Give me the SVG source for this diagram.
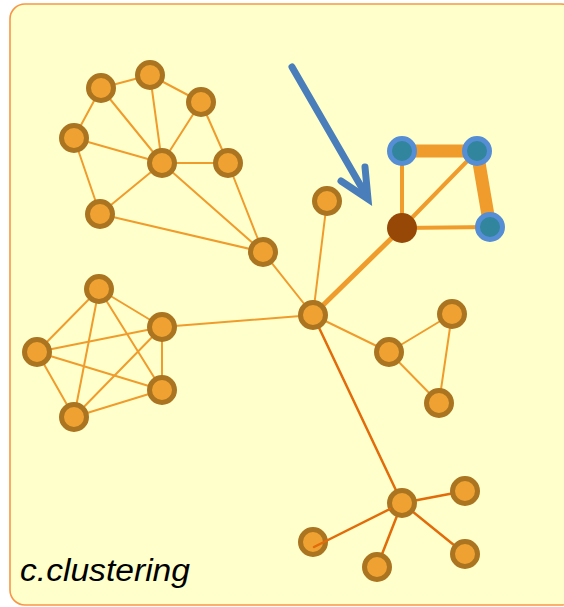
<svg xmlns="http://www.w3.org/2000/svg" width="564" height="607" viewBox="0 0 564 607">
  <style>
    .edge { stroke: #F09C2C; stroke-width: 2; fill: none; stroke-linecap: round; }
    .edge-dark { stroke: #E26B0A; stroke-width: 2.5; fill: none; stroke-linecap: round; }
    .node circle { fill: #EFA232; stroke: #AB7420; stroke-width: 5; }
    .hub circle { fill: #974806; stroke: none; }
    .seed circle { fill: #31859C; stroke: #558ED5; stroke-width: 5; }
    .label { font-family: "Liberation Sans", Arial, sans-serif; font-style: italic; font-size: 31px; fill: #000; }
  </style>

  <rect x="0" y="0" width="564" height="607" fill="#FFFFFF"/>
  <!-- panel -->
  <rect id="panel" x="10" y="4" width="566" height="601" rx="15" ry="15" fill="#FFFFCC" stroke="#F79646" stroke-width="1.6"/>

  <g id="connectors">
    <!-- upper-left cluster -->
    <line class="edge" x1="101" y1="88" x2="150" y2="75"/>
    <line class="edge" x1="101" y1="88" x2="74" y2="138"/>
    <line class="edge" x1="101" y1="88" x2="162" y2="163"/>
    <line class="edge" x1="150" y1="75" x2="162" y2="163"/>
    <line class="edge" x1="150" y1="75" x2="201" y2="102"/>
    <line class="edge" x1="201" y1="102" x2="162" y2="163"/>
    <line class="edge" x1="201" y1="102" x2="228" y2="163"/>
    <line class="edge" x1="74" y1="138" x2="162" y2="163"/>
    <line class="edge" x1="74" y1="138" x2="100" y2="214"/>
    <line class="edge" x1="162" y1="163" x2="228" y2="163"/>
    <line class="edge" x1="162" y1="163" x2="100" y2="214"/>
    <line class="edge" x1="162" y1="163" x2="263" y2="252"/>
    <line class="edge" x1="228" y1="163" x2="263" y2="252"/>
    <line class="edge" x1="100" y1="214" x2="263" y2="252"/>

    <!-- left cluster -->
    <line class="edge" x1="99" y1="289" x2="37" y2="352"/>
    <line class="edge" x1="99" y1="289" x2="74" y2="417"/>
    <line class="edge" x1="99" y1="289" x2="162" y2="327"/>
    <line class="edge" x1="99" y1="289" x2="162" y2="390"/>
    <line class="edge" x1="37" y1="352" x2="162" y2="327"/>
    <line class="edge" x1="37" y1="352" x2="162" y2="390"/>
    <line class="edge" x1="37" y1="352" x2="74" y2="417"/>
    <line class="edge" x1="162" y1="327" x2="74" y2="417"/>
    <line class="edge" x1="162" y1="327" x2="162" y2="390"/>
    <line class="edge" x1="162" y1="390" x2="74" y2="417"/>

    <!-- links from the centre node -->
    <line class="edge" x1="313" y1="315" x2="263" y2="252"/>
    <line class="edge" x1="313" y1="315" x2="327" y2="201"/>
    <line class="edge" x1="313" y1="315" x2="162" y2="327"/>
    <line class="edge" x1="313" y1="315" x2="389" y2="352"/>
    <line class="edge" x1="313" y1="315" x2="402" y2="228" style="stroke-width:5"/>
    <line class="edge-dark" x1="313" y1="315" x2="402" y2="503"/>

    <!-- right triangle -->
    <line class="edge" x1="389" y1="352" x2="452" y2="314"/>
    <line class="edge" x1="389" y1="352" x2="439" y2="403"/>
    <line class="edge" x1="452" y1="314" x2="439" y2="403"/>

    <!-- seed group -->
    <line class="edge" x1="402" y1="228" x2="402" y2="151" style="stroke-width:4"/>
    <line class="edge" x1="402" y1="228" x2="477" y2="151" style="stroke-width:4"/>
    <line class="edge" x1="402" y1="228" x2="490" y2="227" style="stroke-width:4"/>
    <line class="edge" x1="402" y1="151" x2="477" y2="151" style="stroke-width:13;stroke-linecap:butt"/>
    <line class="edge" x1="477" y1="151" x2="490" y2="227" style="stroke-width:13;stroke-linecap:butt"/>

    <!-- bottom star -->
    <line class="edge-dark" x1="402" y1="503" x2="465" y2="491"/>
    <line class="edge-dark" x1="402" y1="503" x2="465" y2="554"/>
    <line class="edge-dark" x1="402" y1="503" x2="377" y2="567"/>

    <!-- pointer arrow -->
    <g id="pointer" stroke="#4A7EBB" stroke-width="7" fill="none" stroke-linecap="round" stroke-linejoin="miter">
      <line x1="292" y1="67" x2="366" y2="195"/>
      <polyline points="365,167 368,199 341,181"/>
    </g>
  </g>

  <!-- upper-left cluster -->
  <g id="n-a" class="node"><circle cx="101" cy="88" r="12.5"/></g>
  <g id="n-b" class="node"><circle cx="150" cy="75" r="12.5"/></g>
  <g id="n-c" class="node"><circle cx="201" cy="102" r="12.5"/></g>
  <g id="n-d" class="node"><circle cx="74" cy="138" r="12.5"/></g>
  <g id="n-e" class="node"><circle cx="162" cy="163" r="12.5"/></g>
  <g id="n-f" class="node"><circle cx="228" cy="163" r="12.5"/></g>
  <g id="n-g" class="node"><circle cx="100" cy="214" r="12.5"/></g>
  <g id="n-h" class="node"><circle cx="263" cy="252" r="12.5"/></g>

  <!-- left cluster -->
  <g id="n-l1" class="node"><circle cx="99" cy="289" r="12.5"/></g>
  <g id="n-l2" class="node"><circle cx="162" cy="327" r="12.5"/></g>
  <g id="n-l3" class="node"><circle cx="37" cy="352" r="12.5"/></g>
  <g id="n-l4" class="node"><circle cx="162" cy="390" r="12.5"/></g>
  <g id="n-l5" class="node"><circle cx="74" cy="417" r="12.5"/></g>

  <!-- centre and neighbours -->
  <g id="n-m" class="node"><circle cx="313" cy="315" r="12.5"/></g>
  <g id="n-n" class="node"><circle cx="327" cy="201" r="12.5"/></g>
  <g id="n-p" class="node"><circle cx="389" cy="352" r="12.5"/></g>
  <g id="n-q" class="node"><circle cx="452" cy="314" r="12.5"/></g>
  <g id="n-r" class="node"><circle cx="439" cy="403" r="12.5"/></g>

  <!-- seed group -->
  <g id="n-k" class="hub"><circle cx="402" cy="228" r="15"/></g>
  <g id="n-s1" class="seed"><circle cx="402" cy="151" r="12.5"/></g>
  <g id="n-s2" class="seed"><circle cx="477" cy="151" r="12.5"/></g>
  <g id="n-s3" class="seed"><circle cx="490" cy="227" r="12.5"/></g>

  <!-- bottom star -->
  <g id="n-t" class="node"><circle cx="402" cy="503" r="12.5"/></g>
  <g id="n-t1" class="node"><circle cx="465" cy="491" r="12.5"/></g>
  <g id="n-t2" class="node"><circle cx="465" cy="554" r="12.5"/></g>
  <g id="n-t3" class="node"><circle cx="377" cy="567" r="12.5"/></g>
  <g id="n-t4" class="node"><circle cx="313" cy="542" r="12.5"/></g>
  <line class="edge-dark" x1="390" y1="509" x2="314" y2="547"/>

  <text class="label" x="20" y="581" textLength="170" lengthAdjust="spacingAndGlyphs">c.clustering</text>
</svg>
